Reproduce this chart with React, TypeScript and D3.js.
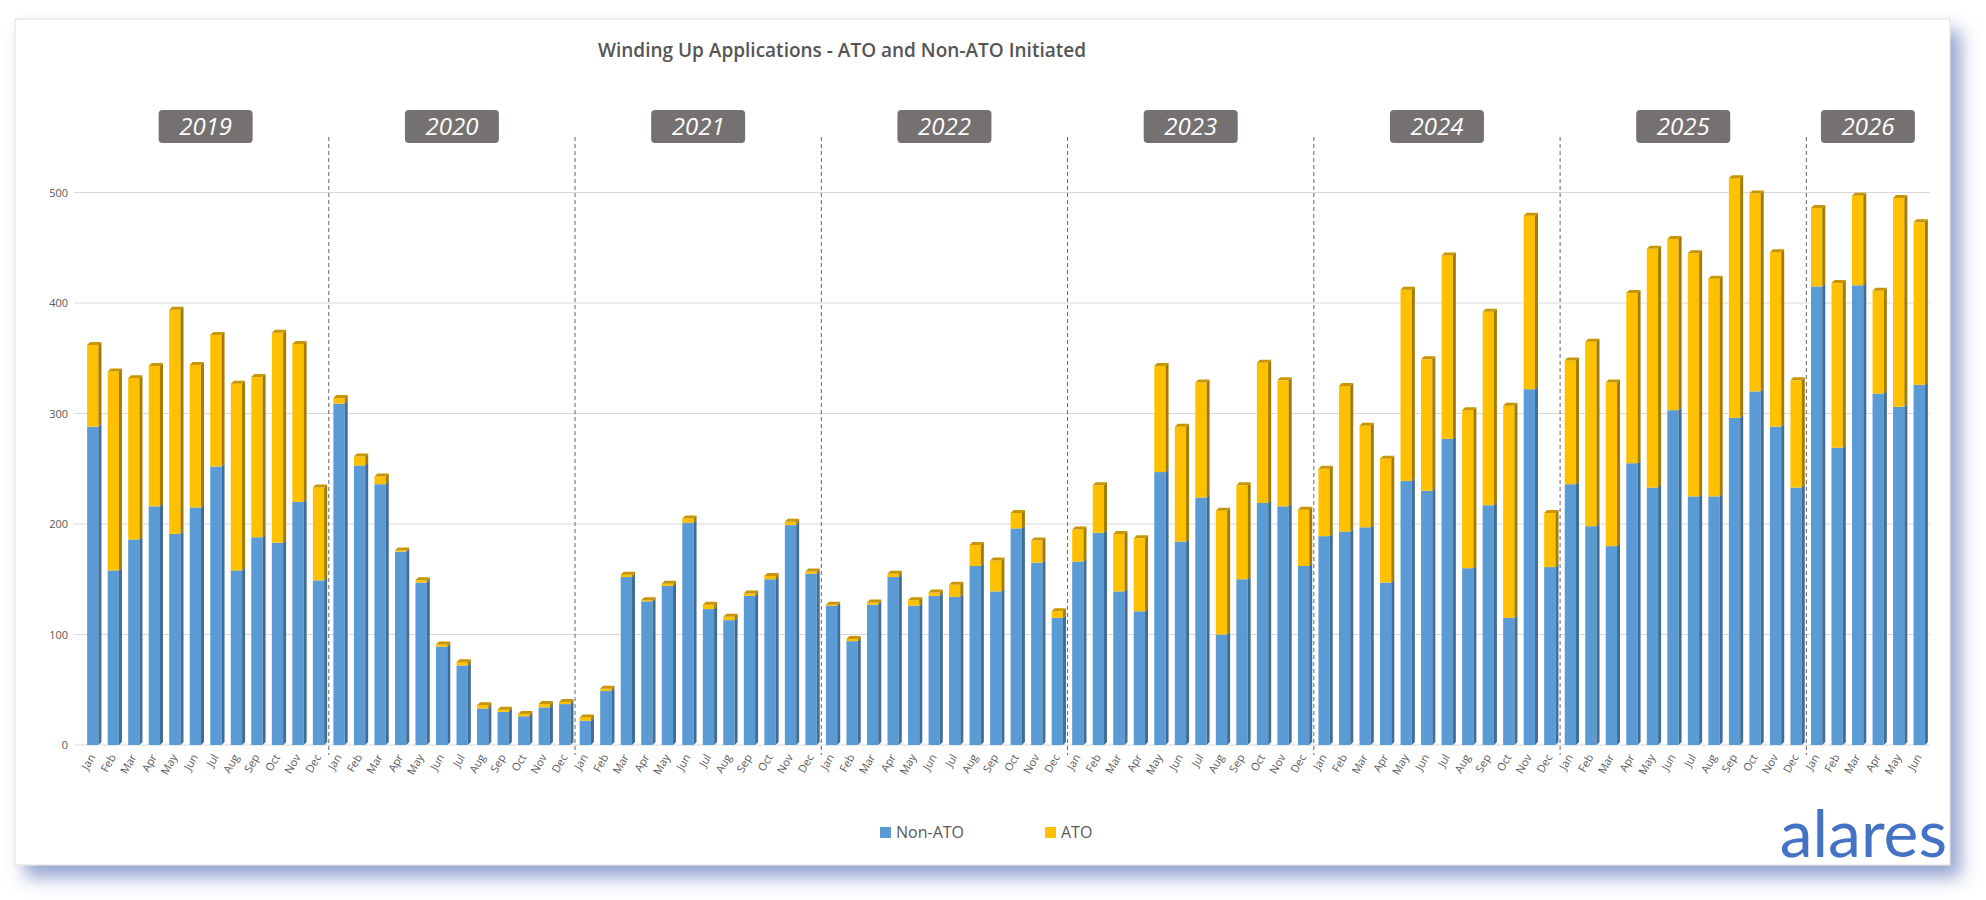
import React from 'react';
import * as d3 from 'd3';

const years = ['2019', '2020', '2021', '2022', '2023', '2024', '2025', '2026'];
const monthNames = ['Jan', 'Feb', 'Mar', 'Apr', 'May', 'Jun', 'Jul', 'Aug', 'Sep', 'Oct', 'Nov', 'Dec'];

const nonAto = [
  288, 158, 186, 216, 191, 215, 252, 158, 188, 183, 220, 149,
  309, 253, 236, 175, 147, 89, 72, 33, 30, 26, 34, 37,
  22, 49, 152, 130, 144, 201, 123, 113, 135, 150, 199, 155,
  126, 94, 127, 152, 126, 135, 134, 162, 139, 196, 165, 115,
  166, 192, 139, 121, 247, 184, 224, 100, 150, 219, 216, 162,
  189, 193, 197, 147, 239, 230, 277, 160, 217, 115, 322, 161,
  236, 198, 180, 255, 233, 303, 225, 225, 296, 320, 288, 233,
  415, 269, 416, 318, 306, 326,
];
const ato = [
  74, 180, 146, 127, 203, 129, 119, 169, 145, 190, 143, 84,
  5, 8, 7, 1, 2, 2, 3, 3, 2, 2, 3, 2,
  3, 2, 2, 1, 2, 4, 4, 3, 2, 3, 3, 2,
  1, 2, 2, 3, 5, 3, 11, 19, 28, 14, 20, 6,
  29, 43, 52, 66, 96, 104, 104, 112, 85, 127, 114, 51,
  61, 132, 92, 112, 173, 119, 166, 143, 175, 192, 157, 49,
  112, 167, 148, 154, 216, 155, 220, 197, 217, 179, 158, 97,
  71, 149, 81, 93, 189, 147,
];
const yTicks = [0, 100, 200, 300, 400, 500];

const months = nonAto.map((_, i) => ({ key: `${i}`, label: monthNames[i % 12], year: years[Math.floor(i / 12)] }));

const W = 1986, H = 900;
const left = 82, right = 1930, bottom = 745;

export default function App() {
  const x = d3.scaleBand<string>().domain(months.map(m => m.key)).range([left, right]).paddingInner(0.45).paddingOuter(0.25);
  const y = d3.scaleLinear().domain([0, 530]).range([bottom, bottom - 530 * 1.105]);
  const bw = x.bandwidth();
  const step = x.step();
  const dx = 3, dy = 3;

  const bar = (i: number, v0: number, v1: number, c: string, side: string, topC: string, showTop: boolean) => {
    const x0 = x(`${i}`)!;
    const ya = y(v1), yb = y(v0);
    return (
      <g key={`${i}-${c}`}>
        <rect x={x0} y={ya} width={bw} height={Math.max(0, yb - ya)} fill={c} />
        <polygon points={`${x0 + bw},${ya} ${x0 + bw + dx},${ya - dy} ${x0 + bw + dx},${yb - dy} ${x0 + bw},${yb}`} fill={side} />
        {showTop && <polygon points={`${x0},${ya} ${x0 + dx},${ya - dy} ${x0 + bw + dx},${ya - dy} ${x0 + bw},${ya}`} fill={topC} />}
      </g>
    );
  };

  return (
    <svg width={W} height={H} style={{ position: 'absolute', left: 0, top: 0, fontFamily: 'Open Sans, sans-serif' }}>
      <defs>
        <filter id="sh" x="-5%" y="-5%" width="115%" height="120%">
          <feDropShadow dx="10" dy="12" stdDeviation="9" floodColor="#3b5aa8" floodOpacity="0.55" />
        </filter>
      </defs>
      <rect x={0} y={0} width={W} height={H} fill="#fff" />
      <rect x={15} y={19} width={1935} height={846} fill="#fff" stroke="#ddd" filter="url(#sh)" />
      <text x={842} y={57} textAnchor="middle" fontSize={19} fontWeight={600} fill="#555">Winding Up Applications - ATO and Non-ATO Initiated</text>

      {yTicks.map(t => (
        <g key={t}>
          <line x1={left - 8} x2={right} y1={y(t)} y2={y(t)} stroke="#d9d9d9" />
          <text x={left - 14} y={y(t) + 4} textAnchor="end" fontSize={11} fill="#595959">{t}</text>
        </g>
      ))}

      {years.slice(1).map((yr, k) => {
        const xd = x(`${(k + 1) * 12}`)! - (step - bw) / 2;
        return <line key={yr} x1={xd} x2={xd} y1={137} y2={bottom + 10} stroke="#666" strokeDasharray="4,3" />;
      })}

      {years.map((yr, k) => {
        const n = Math.min(12, nonAto.length - k * 12);
        const cx = (x(`${k * 12}`)! + x(`${k * 12 + n - 1}`)! + bw) / 2;
        return (
          <g key={yr}>
            <rect x={cx - 47} y={110} width={94} height={33} rx={4} fill="#757171" />
            <text x={cx} y={135} textAnchor="middle" fontSize={24} fontStyle="italic" fill="#fff">{yr}</text>
          </g>
        );
      })}

      {months.map((m, i) => (
        <g key={m.key}>
          {bar(i, 0, nonAto[i], '#5b9bd5', '#3e6d98', '#3e6d98', false)}
          {bar(i, nonAto[i], nonAto[i] + ato[i], '#ffc000', '#a37b00', '#c79600', true)}
          <text transform={`translate(${x(m.key)! + bw / 2 + 3},${bottom + 12}) rotate(-60)`} textAnchor="end" fontSize={11} fill="#595959">{m.label}</text>
        </g>
      ))}

      <rect x={880} y={827} width={11} height={11} fill="#5b9bd5" />
      <text x={896} y={838} fontSize={16} fill="#595959">Non-ATO</text>
      <rect x={1045} y={827} width={11} height={11} fill="#ffc000" />
      <text x={1061} y={838} fontSize={16} fill="#595959">ATO</text>

      <text x={1947} y={857} textAnchor="end" fontSize={66} fill="#4472c4" fontFamily="Lato, sans-serif">alares</text>
    </svg>
  );
}
